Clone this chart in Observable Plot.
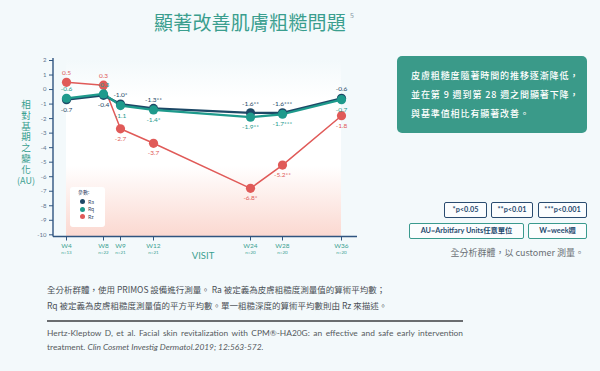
<!DOCTYPE html>
<html><head><meta charset="utf-8">
<script src="https://cdn.jsdelivr.net/npm/d3@7"></script>
<script src="https://cdn.jsdelivr.net/npm/@observablehq/plot@0.6"></script>
<style>
body{margin:0;background:#f3f9fb;}
#page{position:relative;width:600px;height:371px;overflow:hidden;font-family:"Noto Sans CJK TC","Noto Sans",sans-serif;}
.abs{position:absolute;white-space:nowrap;}
#chart{position:absolute;left:0;top:0;}
#title{left:154px;top:9px;font-size:19px;line-height:26px;color:#3a9e8e;letter-spacing:0.2px;}
#sup{left:350px;top:10px;font-size:7px;color:#8a9aa6;}
#ytitle{left:20px;top:100px;writing-mode:vertical-rl;color:#3aa090;font-size:9.5px;line-height:12px;letter-spacing:1.2px;}
#yunit{left:16px;top:176px;width:20px;text-align:center;color:#3aa090;font-size:9px;line-height:10px;}
#visit{left:188px;top:250px;width:30px;text-align:center;color:#3aa090;font-size:9.5px;font-family:"Lato","Noto Sans",sans-serif;}
#note{left:397px;top:56px;width:190px;height:77px;background:#3a9a89;border-radius:5px;color:#fff;font-size:9px;line-height:19px;letter-spacing:0.9px;box-sizing:border-box;padding:10px 0 0 14px;font-weight:500;}
.pbox{position:absolute;box-sizing:border-box;height:16px;border-radius:2px;background:#fbfdfe;font-size:7.3px;line-height:14px;text-align:center;color:#1f4a6e;font-weight:700;font-family:"Lato","Noto Sans CJK TC",sans-serif;white-space:nowrap;}
.p1{border:1.4px solid #2a4c70;top:202px;}
.p2{border:1.4px solid #3a9a8e;top:223px;}
#analysis{right:16px;top:246px;font-size:9px;color:#6a6f74;}
#legend{left:70px;top:187px;width:35px;height:40px;background:#fff;border-radius:3px;font-size:5px;color:#2a4060;}
.foot{position:absolute;left:47px;font-size:8.5px;color:#4a4f55;white-space:nowrap;}
#rule{position:absolute;left:47px;top:320px;width:416px;height:2px;background:#6a6d70;}
.cite{position:absolute;left:47px;width:416px;font-size:8.4px;color:#55595e;font-family:"Lato","Noto Sans",sans-serif;white-space:nowrap;}
</style></head><body><div id="page">
<div id="chart"></div>
<div id="title" class="abs">顯著改善肌膚粗糙問題</div>
<div id="sup" class="abs">5</div>
<div id="ytitle" class="abs"></div>
<div id="yunit" class="abs"></div>
<div id="visit" class="abs">VISIT</div>
<div id="legend" class="abs"></div>
<div id="note" class="abs">皮膚粗糙度隨著時間的推移逐漸降低，<br>並在第 9 週到第 28 週之間顯著下降，<br>與基準值相比有顯著改善。</div>
<div class="pbox p1" style="left:444px;width:43px">*p&lt;0.05</div>
<div class="pbox p1" style="left:491px;width:42px">**p&lt;0.01</div>
<div class="pbox p1" style="left:538px;width:49px">***p&lt;0.001</div>
<div class="pbox p2" style="left:409px;width:115px">AU=Arbitfary Units任意單位</div>
<div class="pbox p2" style="left:528px;width:59px">W=week週</div>
<div id="analysis" class="abs">全分析群體，以 customer 測量。</div>
<div class="foot" style="top:283px">全分析群體，使用 PRIMOS 設備進行測量。 Ra 被定義為皮膚粗糙度測量值的算術平均數；</div>
<div class="foot" style="top:299px">Rq 被定義為皮膚粗糙度測量值的平方平均數。單一粗糙深度的算術平均數則由 Rz 來描述。</div>
<div id="rule"></div>
<div class="cite" style="top:328px;text-align:justify;text-align-last:justify;">Hertz-Kleptow D, et al. Facial skin revitalization with CPM®-HA20G: an effective and safe early intervention</div>
<div class="cite" style="top:342px">treatment. <i>Clin Cosmet Investig Dermatol.2019; 12:563-572.</i></div>
</div>
<script>
const visits = ["W4","W8","W9","W12","W24","W28","W36"];
const weeks = [4,8,9,12,24,28,36];
const nCounts = ["n=13","n=22","n=21","n=21","n=20","n=20","n=20"];
const seriesNames = ["Ra","Rq","Rz"];
const raValues = [-0.7,-0.4,-1.0,-1.3,-1.6,-1.6,-0.6];
const rqValues = [-0.6,-0.3,-1.1,-1.4,-1.9,-1.7,-0.7];
const rzValues = [0.5,0.3,-2.7,-3.7,-6.8,-5.2,-1.8];
const raSig = ["","","*","**","**","***",""];
const rqSig = ["","","","*","**","***",""];
const rzSig = ["","","","","*","**",""];
const yTicks = [2,1,0,-1,-2,-3,-4,-5,-6,-7,-8,-9,-10];
const yTitleText = "相對基期之變化";
const yUnit = "(AU)";

const colors = ["#1d4866","#1e9a8c","#e05a58"];
const navy = "#2f5580", teal = "#3aa090", bg = "#f3f9fb";
const valuesBy = {Ra: raValues, Rq: rqValues, Rz: rzValues};
const sigBy = {Ra: raSig, Rq: rqSig, Rz: rzSig};
const partner = {Ra: "Rq", Rq: "Ra", Rz: "Ra"};
const drawOrder = ["Rz","Ra","Rq"];
const rows = drawOrder.flatMap(s => weeks.map((w, i) => ({
  series: s, week: w, value: valuesBy[s][i],
  label: valuesBy[s][i].toFixed(1) + sigBy[s][i],
  above: valuesBy[s][i] >= valuesBy[partner[s]][i]
})));

function backdrop(index, scales, values, dims) {
  const g = d3.create("svg:g");
  const grad = g.append("defs").append("linearGradient").attr("id","bgGrad").attr("x1",0).attr("y1",0).attr("x2",0).attr("y2",1);
  [[0,bg],[0.22,"#ffffff"],[0.6,"#ffffff"],[1,"#fbd8d0"]].forEach(([o,c]) => grad.append("stop").attr("offset",o).attr("stop-color",c));
  const x0 = scales.x(weeks[0]), x1 = scales.x(weeks[weeks.length-1]);
  const y0 = scales.y(yTicks[0]), y1 = dims.height - dims.marginBottom;
  g.append("rect").attr("x",x0).attr("y",y0).attr("width",x1-x0).attr("height",y1-y0).attr("fill","url(#bgGrad)");
  return g.node();
}
function axisLines(index, scales, values, dims) {
  const g = d3.create("svg:g").attr("stroke", navy).attr("stroke-width",1.4);
  const yb = dims.height - dims.marginBottom;
  g.append("line").attr("x1",dims.marginLeft).attr("x2",dims.marginLeft).attr("y1",scales.y(yTicks[0])-2).attr("y2",yb);
  g.append("line").attr("x1",dims.marginLeft).attr("x2",dims.width-dims.marginRight).attr("y1",yb).attr("y2",yb);
  return g.node();
}

const chart = Plot.plot({
  width: 370, height: 265,
  marginLeft: 53, marginRight: 13, marginTop: 60, marginBottom: 28.5,
  style: {background: "transparent", overflow: "visible", fontFamily: "Lato, 'Noto Sans', sans-serif"},
  x: {type: "linear", domain: weeks, range: [66,103,120,153,250,282,341]},
  y: {domain: [-10.15, 2]},
  color: {domain: seriesNames, range: colors},
  marks: [
    backdrop,
    Plot.axisY({ticks: yTicks, tickSize: 4, tickPadding: 3, tickFormat: d => String(d), fontSize: 6, fill: "#60748c", stroke: navy, label: null}),
    Plot.axisX({ticks: weeks, tickSize: 4, tickPadding: 2, tickFormat: d => visits[weeks.indexOf(d)], fontSize: 6.5, fill: teal, stroke: navy, label: null}),
    Plot.text(weeks, {x: d => d, frameAnchor: "bottom", dy: 17, text: (d, i) => nCounts[i], fontSize: 4.5, fill: teal}),
    axisLines,
    Plot.line(rows, {x: "week", y: "value", z: "series", stroke: "series", strokeWidth: d => d.series === "Rz" ? 1.5 : 2.3}),
    Plot.dot(rows, {x: "week", y: "value", fill: "series", r: 4.6}),
    Plot.text(rows.filter(d => d.above), {x: "week", y: "value", text: "label", dy: -9, fill: "series", fontSize: 6.5}),
    Plot.text(rows.filter(d => !d.above), {x: "week", y: "value", text: "label", dy: 10, fill: "series", fontSize: 6.5})
  ]
});
document.getElementById("chart").appendChild(chart);

document.getElementById("ytitle").textContent = yTitleText;
document.getElementById("yunit").textContent = yUnit;

const legend = d3.select("#legend");
legend.append("div").style("position","absolute").style("left","8px").style("top","1px").text("參數:");
seriesNames.forEach((s, i) => {
  const row = legend.append("div").style("position","absolute").style("left","10px").style("top", (11 + i*7.5) + "px").style("line-height","6px");
  row.append("span").style("display","inline-block").style("width","5px").style("height","5px").style("border-radius","50%").style("background", colors[i]).style("vertical-align","middle");
  row.append("span").style("margin-left","3px").style("vertical-align","middle").text(s);
});
</script>
</body></html>
